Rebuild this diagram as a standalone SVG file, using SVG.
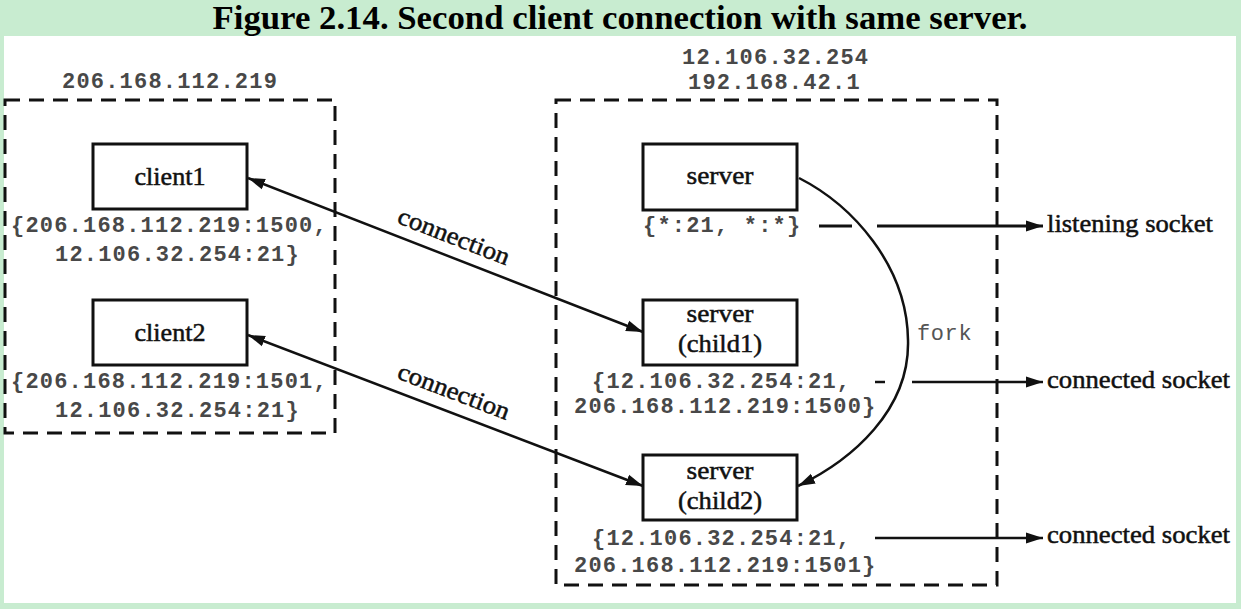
<svg xmlns="http://www.w3.org/2000/svg" width="1241" height="609" viewBox="0 0 1241 609">
<style>
.title{font-family:"Liberation Serif",serif;font-weight:bold;font-size:34px;fill:#000}
.mono{font-family:"Liberation Mono",monospace;font-weight:bold;font-size:22px;letter-spacing:1.2px;fill:#484848}
.lbl{font-family:"Liberation Serif",serif;font-size:25px;fill:#111;stroke:#111;stroke-width:0.5}
.box{fill:#fff;stroke:#111;stroke-width:3}
.dash{fill:none;stroke:#111;stroke-width:3;stroke-dasharray:15 9}
.ln{fill:none;stroke:#111;stroke-width:2.5}
</style>
<defs>
<marker id="ah" markerUnits="userSpaceOnUse" markerWidth="18" markerHeight="12" refX="17" refY="6" orient="auto-start-reverse">
<path d="M0,0.5 L17,6 L0,11.5 z" fill="#111"/>
</marker>
</defs>
<rect x="0" y="0" width="1241" height="609" fill="#c8ecd0"/>
<rect x="4" y="36" width="1232" height="567" fill="#fff"/>
<text class="title" x="620" y="29" text-anchor="middle" textLength="815" lengthAdjust="spacingAndGlyphs">Figure 2.14. Second client connection with same server.</text>

<g id="client-host">
<rect class="dash" x="5" y="100" width="330" height="333"/>
<text class="mono" x="62" y="88">206.168.112.219</text>
</g>
<g id="server-host">
<rect class="dash" x="556" y="100" width="441" height="485"/>
<text class="mono" x="682" y="64">12.106.32.254</text>
<text class="mono" x="688" y="89">192.168.42.1</text>
</g>

<g id="client1">
<rect class="box" x="93" y="144" width="154" height="65"/>
<text class="lbl" x="170" y="185" text-anchor="middle" textLength="71" lengthAdjust="spacingAndGlyphs">client1</text>
<text class="mono" x="11" y="232">{206.168.112.219:1500,</text>
<text class="mono" x="55" y="261">12.106.32.254:21}</text>
</g>
<g id="client2">
<rect class="box" x="93" y="300" width="154" height="65"/>
<text class="lbl" x="170" y="341" text-anchor="middle" textLength="71" lengthAdjust="spacingAndGlyphs">client2</text>
<text class="mono" x="11" y="388">{206.168.112.219:1501,</text>
<text class="mono" x="55" y="417">12.106.32.254:21}</text>
</g>
<g id="server">
<rect class="box" x="643" y="144" width="154" height="66"/>
<text class="lbl" x="720" y="184" text-anchor="middle" textLength="67" lengthAdjust="spacingAndGlyphs">server</text>
<text class="mono" x="643" y="232">{*:21, *:*}</text>
</g>
<g id="child1">
<rect class="box" x="643" y="300" width="154" height="65"/>
<text class="lbl" x="720" y="322" text-anchor="middle" textLength="67" lengthAdjust="spacingAndGlyphs">server</text>
<text class="lbl" x="720" y="352" text-anchor="middle" textLength="84" lengthAdjust="spacingAndGlyphs">(child1)</text>
<text class="mono" x="592" y="388">{12.106.32.254:21,</text>
<text class="mono" x="574" y="413">206.168.112.219:1500}</text>
</g>
<g id="child2">
<rect class="box" x="643" y="455" width="154" height="65"/>
<text class="lbl" x="720" y="479" text-anchor="middle" textLength="67" lengthAdjust="spacingAndGlyphs">server</text>
<text class="lbl" x="720" y="509" text-anchor="middle" textLength="84" lengthAdjust="spacingAndGlyphs">(child2)</text>
<text class="mono" x="592" y="545">{12.106.32.254:21,</text>
<text class="mono" x="574" y="572">206.168.112.219:1501}</text>
</g>

<g id="connectors">
<line class="ln" x1="248" y1="178" x2="643" y2="332" marker-start="url(#ah)" marker-end="url(#ah)"/>
<text class="lbl" transform="translate(451,244) rotate(21.3)" text-anchor="middle" textLength="118" lengthAdjust="spacingAndGlyphs">connection</text>
<line class="ln" x1="248" y1="335" x2="643" y2="486" marker-start="url(#ah)" marker-end="url(#ah)"/>
<text class="lbl" transform="translate(451,399) rotate(20.9)" text-anchor="middle" textLength="118" lengthAdjust="spacingAndGlyphs">connection</text>
<path class="ln" d="M799,178 C852,205 907,265 908,340 C910,410 852,460 798,486" marker-end="url(#ah)"/>
<text class="mono" x="917" y="340" style="font-weight:normal;letter-spacing:0.6px;fill:#555">fork</text>
<line class="ln" x1="819" y1="226" x2="852" y2="226" style="stroke-width:3"/>
<line class="ln" x1="877" y1="226" x2="1043" y2="226" style="stroke-width:3" marker-end="url(#ah)"/>
<text class="lbl" x="1047" y="232" textLength="166" lengthAdjust="spacingAndGlyphs">listening socket</text>
<line class="ln" x1="875" y1="382" x2="885" y2="382"/>
<line class="ln" x1="912" y1="382" x2="1043" y2="382" marker-end="url(#ah)"/>
<text class="lbl" x="1047" y="388" textLength="183" lengthAdjust="spacingAndGlyphs">connected socket</text>
<line class="ln" x1="875" y1="538" x2="1043" y2="538" marker-end="url(#ah)"/>
<text class="lbl" x="1047" y="543" textLength="183" lengthAdjust="spacingAndGlyphs">connected socket</text>
</g>
</svg>
